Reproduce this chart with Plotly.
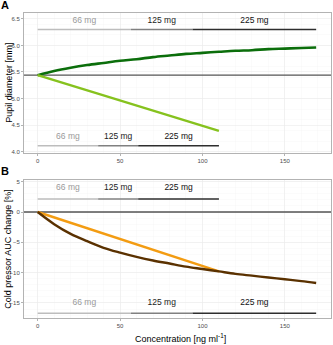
import plotly.graph_objects as go

# ---------------- data ----------------
conc_dark = [0, 10, 20, 30, 40, 50, 60, 70, 80, 90, 100, 110, 120, 130, 140, 150, 160, 169]
pupil_dark = [5.44, 5.52, 5.58, 5.63, 5.67, 5.71, 5.74, 5.78, 5.81, 5.84, 5.86, 5.88, 5.90, 5.91, 5.93, 5.94, 5.95, 5.96]
conc_light = [0, 20, 40, 60, 80, 100, 110]
pupil_light = [5.44, 5.25, 5.06, 4.87, 4.68, 4.49, 4.39]
pupil_baseline = 5.44

cp_brown = [0, -2.0, -3.6, -4.8, -5.9, -6.7, -7.4, -8.0, -8.5, -9.0, -9.4, -9.8, -10.2, -10.5, -10.8, -11.1, -11.4, -11.7]
cp_orange = [0, -1.8, -3.6, -5.4, -7.2, -8.95, -9.8]
cp_baseline = 0

dose_labels = ["66 mg", "125 mg", "225 mg"]
bounds_short = [0, 36.7, 61, 110]   # dose ranges for the shorter series
bounds_long = [0, 56.6, 94, 169]    # dose ranges for the longer series

x_ticks = [0, 50, 100, 150]
a_ticks = [4.0, 4.5, 5.0, 5.5, 6.0, 6.5]
b_ticks = [5, 0, -5, -10, -15]

# ---------------- styling ----------------
FONT = "Liberation Sans, Arial, sans-serif"
seg_colors = ["#BDBDBD", "#808080", "#2E2E2E"]
lab_colors = ["#9A9A9A", "#222222", "#111111"]

fig = go.Figure()


def add_dose_bar(bounds, y_bar, y_lab, xa, ya):
    for i in range(3):
        fig.add_trace(go.Scatter(
            x=[bounds[i], bounds[i + 1]], y=[y_bar, y_bar], mode="lines",
            line=dict(color=seg_colors[i], width=1.4), xaxis=xa, yaxis=ya,
            showlegend=False, hoverinfo="skip"))
        fig.add_trace(go.Scatter(
            x=[(bounds[i] + bounds[i + 1]) / 2], y=[y_lab], mode="text",
            text=[dose_labels[i]], textfont=dict(size=8.5, color=lab_colors[i], family=FONT),
            xaxis=xa, yaxis=ya, showlegend=False, hoverinfo="skip"))


# Panel A
fig.add_trace(go.Scatter(x=[-20, 200], y=[pupil_baseline, pupil_baseline], mode="lines",
                         line=dict(color="#555555", width=1.3), xaxis="x", yaxis="y",
                         showlegend=False))
fig.add_trace(go.Scatter(x=conc_dark, y=pupil_dark, mode="lines",
                         line=dict(color="#0B6E0B", width=2.6, shape="spline"),
                         xaxis="x", yaxis="y", showlegend=False))
fig.add_trace(go.Scatter(x=conc_light, y=pupil_light, mode="lines",
                         line=dict(color="#86C21E", width=2.4),
                         xaxis="x", yaxis="y", showlegend=False))
add_dose_bar(bounds_long, 6.30, 6.46, "x", "y")
add_dose_bar(bounds_short, 4.11, 4.27, "x", "y")

# Panel B
fig.add_trace(go.Scatter(x=[-20, 200], y=[cp_baseline, cp_baseline], mode="lines",
                         line=dict(color="#555555", width=1.3), xaxis="x2", yaxis="y2",
                         showlegend=False))
fig.add_trace(go.Scatter(x=conc_light, y=cp_orange, mode="lines",
                         line=dict(color="#F39C12", width=2.4),
                         xaxis="x2", yaxis="y2", showlegend=False))
fig.add_trace(go.Scatter(x=conc_dark, y=cp_brown, mode="lines",
                         line=dict(color="#5A3100", width=2.4, shape="spline"),
                         xaxis="x2", yaxis="y2", showlegend=False))
add_dose_bar(bounds_short, 2.15, 4.0, "x2", "y2")
add_dose_bar(bounds_long, -16.7, -15.0, "x2", "y2")

ax_common = dict(
    showline=True, mirror=True, linecolor="#B3B3B3", linewidth=1,
    ticks="outside", ticklen=2, tickcolor="#B3B3B3", tickwidth=1,
    tickfont=dict(size=6, color="#4D4D4D", family=FONT),
    showgrid=True, gridcolor="#EBEBEB", gridwidth=0.6,
    minor=dict(showgrid=True, gridcolor="#F5F5F5", gridwidth=0.4),
    zeroline=False, automargin=False,
)

xr = [-8.3, 178]
fig.update_layout(
    width=333, height=345,
    margin=dict(l=24, r=2, t=13, b=27, autoexpand=False),
    plot_bgcolor="white", paper_bgcolor="white",
    font=dict(family=FONT),
    xaxis=dict(domain=[0, 1], anchor="y", range=xr, tickvals=x_ticks, **ax_common),
    yaxis=dict(domain=[0.541, 1], anchor="x", range=[3.975, 6.61], tickvals=a_ticks,
               ticktext=[f"{v:.1f}" for v in a_ticks], **ax_common),
    xaxis2=dict(domain=[0, 1], anchor="y2", range=xr, tickvals=x_ticks, **ax_common),
    yaxis2=dict(domain=[0, 0.4525], anchor="x2", range=[-17.48, 5.28], tickvals=b_ticks, **ax_common),
    annotations=[
        dict(text="<b>A</b>", x=-0.062, y=1.025, xref="paper", yref="paper", showarrow=False,
             xanchor="center", yanchor="middle", font=dict(size=11, color="black", family=FONT)),
        dict(text="<b>B</b>", x=-0.062, y=0.483, xref="paper", yref="paper", showarrow=False,
             xanchor="center", yanchor="middle", font=dict(size=11, color="black", family=FONT)),
        dict(text="Pupil diameter [mm]", x=-0.05, y=0.7705, xref="paper", yref="paper",
             showarrow=False, textangle=-90, xanchor="center", yanchor="middle",
             font=dict(size=9, color="black", family=FONT)),
        dict(text="Cold pressor AUC change [%]", x=-0.053, y=0.226, xref="paper", yref="paper",
             showarrow=False, textangle=-90, xanchor="center", yanchor="middle",
             font=dict(size=9, color="black", family=FONT)),
        dict(text="Concentration [ng ml<sup>-1</sup>]", x=0.51, y=-0.0656, xref="paper", yref="paper",
             showarrow=False, xanchor="center", yanchor="middle",
             font=dict(size=9, color="black", family=FONT)),
    ],
)

fig.write_html(
    "out.html",
    config={"displayModeBar": False, "staticPlot": True},
    post_script="document.body.style.margin='0';document.body.style.overflow='hidden';",
)
